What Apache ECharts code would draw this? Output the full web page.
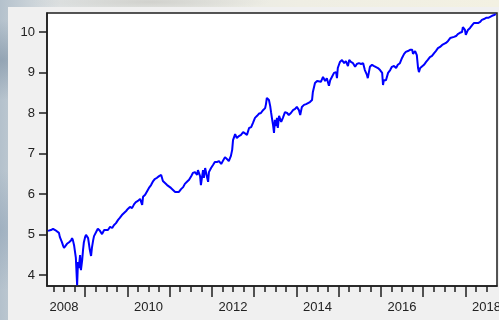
<!DOCTYPE html>
<html>
<head>
<meta charset="utf-8">
<script src="https://cdn.jsdelivr.net/npm/echarts@6/dist/echarts.min.js"></script>
<style>
  html, body { margin: 0; padding: 0; }
  body {
    width: 499px; height: 320px; overflow: hidden;
    background:
      radial-gradient(ellipse 60px 40px at 2px 60px, rgba(120,140,160,0.55), rgba(120,140,160,0) 100%),
      radial-gradient(ellipse 50px 60px at 0px 230px, rgba(140,160,180,0.5), rgba(140,160,180,0) 100%),
      radial-gradient(ellipse 120px 10px at 150px 2px, rgba(200,200,195,0.7), rgba(200,200,195,0) 100%),
      linear-gradient(to right, #b4c1cc 0px, #dfe3e4 60px, #efeee4 300px, #f3f1e2 499px);
  }
  #chart { width: 530px; height: 320px; }
</style>
</head>
<body>
<div id="chart"></div>
<script>
// Daily log level of the index, sampled through the period
const years = [
  2008.12, 2008.19, 2008.24, 2008.29, 2008.33, 2008.38, 2008.40, 2008.45, 2008.48, 2008.50,
  2008.52, 2008.57, 2008.62, 2008.67, 2008.69, 2008.71, 2008.74, 2008.76, 2008.78, 2008.81,
  2008.83, 2008.85, 2008.88, 2008.90, 2008.93, 2008.95, 2008.97, 2009.00, 2009.02, 2009.04,
  2009.07, 2009.09, 2009.11, 2009.14, 2009.16, 2009.19, 2009.21, 2009.26, 2009.30, 2009.35,
  2009.40, 2009.45, 2009.49, 2009.54, 2009.59, 2009.64, 2009.68, 2009.73, 2009.78, 2009.82,
  2009.87, 2009.92, 2009.97, 2010.01, 2010.06, 2010.11, 2010.16, 2010.20, 2010.25, 2010.30,
  2010.35, 2010.37, 2010.42, 2010.46, 2010.51, 2010.56, 2010.61, 2010.65, 2010.70, 2010.75,
  2010.80, 2010.84, 2010.89, 2010.94, 2010.98, 2011.03, 2011.08, 2011.13, 2011.17, 2011.22,
  2011.27, 2011.32, 2011.36, 2011.41, 2011.46, 2011.51, 2011.55, 2011.60, 2011.65, 2011.67,
  2011.72, 2011.74, 2011.79, 2011.81, 2011.84, 2011.88, 2011.91, 2011.93, 2011.98, 2012.03,
  2012.07, 2012.12, 2012.17, 2012.22, 2012.26, 2012.31, 2012.36, 2012.40, 2012.45, 2012.48,
  2012.50, 2012.55, 2012.59, 2012.64, 2012.69, 2012.74, 2012.78, 2012.83, 2012.88, 2012.93,
  2012.97, 2013.02, 2013.07, 2013.11, 2013.16, 2013.21, 2013.26, 2013.28, 2013.30, 2013.33,
  2013.35, 2013.38, 2013.40, 2013.42, 2013.45, 2013.47, 2013.49, 2013.52, 2013.54, 2013.56,
  2013.59, 2013.64, 2013.68, 2013.73, 2013.78, 2013.82, 2013.87, 2013.92, 2013.97, 2014.01,
  2014.06, 2014.09, 2014.13, 2014.18, 2014.23, 2014.27, 2014.32, 2014.37, 2014.39, 2014.44,
  2014.49, 2014.53, 2014.58, 2014.63, 2014.68, 2014.72, 2014.77, 2014.80, 2014.84, 2014.89,
  2014.94, 2014.96, 2014.98, 2015.03, 2015.08, 2015.13, 2015.17, 2015.22, 2015.25, 2015.29,
  2015.34, 2015.39, 2015.43, 2015.48, 2015.53, 2015.58, 2015.62, 2015.67, 2015.69, 2015.74,
  2015.79, 2015.84, 2015.88, 2015.93, 2015.98, 2016.03, 2016.05, 2016.07, 2016.12, 2016.17,
  2016.22, 2016.26, 2016.31, 2016.36, 2016.40, 2016.45, 2016.50, 2016.55, 2016.59, 2016.64,
  2016.69, 2016.74, 2016.76, 2016.81, 2016.85, 2016.88, 2016.90, 2016.93, 2016.97, 2017.02,
  2017.07, 2017.11, 2017.16, 2017.21, 2017.26, 2017.30, 2017.35, 2017.40, 2017.45, 2017.49,
  2017.54, 2017.59, 2017.64, 2017.68, 2017.73, 2017.78, 2017.82, 2017.87, 2017.92, 2017.94,
  2017.99, 2018.01, 2018.06, 2018.11, 2018.16, 2018.20, 2018.25, 2018.30, 2018.35, 2018.39,
  2018.44, 2018.49, 2018.54, 2018.58, 2018.63, 2018.68, 2018.72
];

const values = [
  5.09, 5.11, 5.14, 5.11, 5.09, 5.04, 4.94, 4.81, 4.72, 4.67,
  4.69, 4.77, 4.81, 4.86, 4.91, 4.86, 4.72, 4.57, 4.42, 3.75,
  4.32, 4.17, 4.49, 4.12, 4.37, 4.62, 4.81, 4.94, 4.99, 4.96,
  4.91, 4.77, 4.62, 4.47, 4.67, 4.86, 4.96, 5.06, 5.14, 5.09,
  5.01, 5.11, 5.14, 5.11, 5.19, 5.16, 5.23, 5.28, 5.36, 5.41,
  5.48, 5.53, 5.58, 5.63, 5.68, 5.65, 5.75, 5.80, 5.83, 5.88,
  5.73, 5.93, 5.98, 6.02, 6.15, 6.22, 6.32, 6.37, 6.40, 6.44,
  6.47, 6.32, 6.27, 6.22, 6.20, 6.15, 6.10, 6.05, 6.07, 6.05,
  6.12, 6.17, 6.25, 6.30, 6.35, 6.44, 6.52, 6.54, 6.47, 6.59,
  6.44, 6.22, 6.59, 6.40, 6.64, 6.44, 6.30, 6.54, 6.64, 6.72,
  6.79, 6.79, 6.81, 6.74, 6.77, 6.91, 6.86, 6.81, 6.94, 7.09,
  7.33, 7.48, 7.38, 7.43, 7.46, 7.53, 7.56, 7.46, 7.63, 7.65,
  7.75, 7.88, 7.93, 7.98, 8.00, 8.07, 8.12, 8.22, 8.37, 8.40,
  8.32, 8.17, 8.02, 7.88, 7.68, 7.51, 7.83, 7.68, 7.88, 7.63,
  7.93, 7.78, 7.88, 8.02, 8.00, 7.95, 8.00, 8.07, 8.10, 8.15,
  8.07, 7.95, 8.15, 8.20, 8.22, 8.25, 8.27, 8.32, 8.52, 8.74,
  8.79, 8.81, 8.77, 8.89, 8.79, 8.86, 8.67, 8.81, 8.89, 8.99,
  9.01, 8.86, 9.11, 9.26, 9.31, 9.23, 9.28, 9.16, 9.31, 9.26,
  9.23, 9.14, 9.21, 9.23, 9.21, 9.23, 9.06, 8.94, 8.86, 9.14,
  9.19, 9.16, 9.19, 9.11, 9.06, 8.99, 8.69, 8.81, 8.81, 8.99,
  9.06, 9.14, 9.16, 9.11, 9.19, 9.23, 9.36, 9.46, 9.51, 9.53,
  9.56, 9.56, 9.46, 9.53, 9.43, 9.11, 9.01, 9.11, 9.14, 9.19,
  9.26, 9.31, 9.38, 9.41, 9.48, 9.53, 9.60, 9.63, 9.68, 9.70,
  9.73, 9.78, 9.85, 9.85, 9.88, 9.90, 9.95, 9.98, 10.00, 10.12,
  10.05, 9.93, 10.05, 10.10, 10.17, 10.22, 10.22, 10.22, 10.25, 10.30,
  10.32, 10.35, 10.35, 10.37, 10.40, 10.42, 10.44
];

// Axis labelling
const yTicks = [4, 5, 6, 7, 8, 9, 10];
const yearLabels = [2008, 2010, 2012, 2014, 2016, 2018];
const firstYear = 2008, lastYear = 2018;

const X_MIN = 2008.097, X_MAX = 2018.748;
const Y_MIN = 3.728, Y_MAX = 10.469;

const quarterTicks = [];
const yearTicks = [];
for (let y = firstYear; y <= lastYear; y++) {
  yearTicks.push(y);
  [0.25, 0.5, 0.75].forEach(q => quarterTicks.push(y + q));
}
const labelPositions = yearLabels.map(y => y + 0.5);

const ink = '#1e1e1e';
const font = { fontFamily: 'Liberation Sans, Arial, sans-serif', fontSize: 13, color: '#222' };

const chart = echarts.init(document.getElementById('chart'), null, { renderer: 'canvas' });
chart.setOption({
  backgroundColor: 'transparent',
  animation: false,
  graphic: [{
    type: 'rect', z: -10, silent: true,
    shape: { x: 8, y: 7, width: 530, height: 313 },
    style: { fill: '#f0f0f0' }
  }],
  grid: {
    left: 47, right: 33, top: 13, height: 273,
    show: true, backgroundColor: '#ffffff',
    borderColor: ink, borderWidth: 1.5
  },
  xAxis: [{
    type: 'value', min: X_MIN, max: X_MAX, position: 'bottom',
    axisLine: { show: true, lineStyle: { color: ink, width: 1.5 } },
    axisTick: { show: true, customValues: quarterTicks, length: 6, lineStyle: { color: ink, width: 1.5 } },
    axisLabel: Object.assign({
      show: true, customValues: labelPositions, margin: 15,
      formatter: v => String(Math.floor(v + 1e-6))
    }, font),
    splitLine: { show: false }
  }, {
    type: 'value', min: X_MIN, max: X_MAX, position: 'bottom', offset: 0,
    axisLine: { show: false },
    axisTick: { show: true, customValues: yearTicks, length: 11, lineStyle: { color: ink, width: 1.5 } },
    axisLabel: { show: false },
    splitLine: { show: false }
  }],
  yAxis: {
    type: 'value', min: Y_MIN, max: Y_MAX,
    axisLine: { show: true, lineStyle: { color: ink, width: 1.5 } },
    axisTick: { show: true, customValues: yTicks, length: 8, lineStyle: { color: ink, width: 1.5 } },
    axisLabel: Object.assign({ show: true, customValues: yTicks, margin: 12 }, font),
    splitLine: { show: false }
  },
  series: [{
    type: 'line',
    xAxisIndex: 0,
    data: years.map((t, i) => [t, values[i]]),
    showSymbol: false,
    symbol: 'none',
    lineStyle: { color: '#0000ff', width: 2 },
    clip: true
  }]
});
</script>
</body>
</html>
